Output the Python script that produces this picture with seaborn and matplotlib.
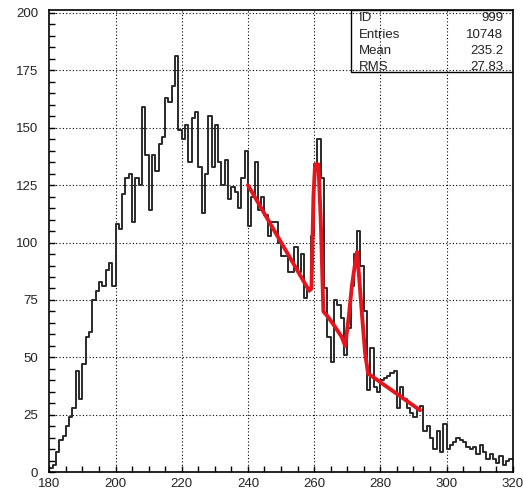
import numpy as np
import pandas as pd
import matplotlib
matplotlib.use("Agg")
import matplotlib.pyplot as plt
from matplotlib.ticker import MultipleLocator
import seaborn as sns

# ---- data ----
bin_low = 180
bin_high = 320
bin_width = 1
counts_180 = [2, 3, 9, 14, 16, 20, 24, 28, 44, 32, 47, 59, 61, 75, 79, 83, 81, 88, 91, 81]
counts_200 = [108, 106, 121, 128, 130, 109, 128, 125, 159, 138, 114, 138, 131, 143, 146, 163, 161, 168, 181, 149]
counts_220 = [145, 151, 135, 154, 157, 133, 113, 130, 155, 133, 151, 135, 125, 136, 119, 124, 122, 115, 128, 140]
counts_240 = [107, 120, 135, 114, 120, 112, 103, 109, 109, 100, 94, 94, 87, 87, 98, 87, 95, 76, 80, 103]
counts_260 = [134, 145, 128, 80, 59, 48, 75, 73, 67, 51, 63, 81, 95, 105, 90, 70, 36, 54, 37, 35]
counts_280 = [40, 41, 42, 43, 44, 28, 37, 32, 28, 26, 24, 27, 29, 18, 20, 15, 10, 18, 9, 21]
counts_300 = [10, 12, 13, 15, 14, 13, 11, 10, 11, 8, 12, 9, 6, 8, 6, 4, 7, 3, 5, 6]

fit_x = [240, 258.5, 259.2, 259.8, 260.3, 261.3, 262.0, 262.8, 264.0, 266.0, 268.3,
         269.4, 270.5, 271.4, 272.3, 273.0, 273.6, 274.5, 275.4, 276.3, 292]
fit_y = [125, 79, 80, 120, 134, 134, 110, 70, 68, 64, 59,
         55, 68, 81, 90, 96, 85, 68, 52, 43, 27]

stat_labels = ["ID", "Entries", "Mean", "RMS"]
stat_values = ["999", "10748", "235.2", "27.83"]

x_ticks = [180, 200, 220, 240, 260, 280, 300, 320]
y_ticks = [0, 25, 50, 75, 100, 125, 150, 175, 200]

counts = counts_180 + counts_200 + counts_220 + counts_240 + counts_260 + counts_280 + counts_300
n = len(counts)
centers = bin_low + bin_width * (np.arange(n) + 0.5)
df = pd.DataFrame({"x": centers, "w": np.asarray(counts, dtype=float)})
fit_df = pd.DataFrame({"x": fit_x, "y": fit_y})

# ---- figure ----
sns.set_style("white")
plt.rcParams["font.family"] = ["Liberation Sans", "DejaVu Sans"]

fig = plt.figure(figsize=(5.23, 4.93), dpi=100)
ax = fig.add_axes([0.0943, 0.042, 0.886, 0.9377])

sns.histplot(data=df, x="x", weights="w", binwidth=bin_width, binrange=(bin_low, bin_high),
             element="step", fill=False, color="#2a2a2a", linewidth=1.4, ax=ax)
sns.lineplot(data=fit_df, x="x", y="y", color="#e8141c", linewidth=2.8, sort=False, ax=ax)

ax.set_xlim(180, 320)
ax.set_ylim(0, 201.2)
ax.set_xlabel("")
ax.set_ylabel("")
ax.set_xticks(x_ticks)
ax.set_yticks(y_ticks)
ax.xaxis.set_minor_locator(MultipleLocator(5))
ax.yaxis.set_minor_locator(MultipleLocator(5))
ax.tick_params(axis="both", which="both", direction="in", length=4.0, width=1.0,
               color="black", labelsize=9.5, labelcolor="#222222")
ax.tick_params(axis="x", which="both", bottom=True, top=False, pad=4)
ax.tick_params(axis="y", which="both", left=True, right=False, pad=8)

for x in x_ticks[1:-1]:
    ax.axvline(x, color="black", linestyle=(0, (1, 2)), linewidth=0.8, zorder=0)
for y in y_ticks[1:]:
    ax.axhline(y, color="black", linestyle=(0, (1, 2)), linewidth=0.8, zorder=0)

for s in ax.spines.values():
    s.set_visible(True)
    s.set_color("black")
    s.set_linewidth(1.2)

# stats box
bx0, by0 = 0.6504, 0.8665
ax.add_patch(plt.Rectangle((bx0, by0), 1 - bx0, 1 - by0, transform=ax.transAxes,
                           facecolor="none", edgecolor="black", linewidth=1.0, zorder=5))
row_y = [0.9820, 0.9470, 0.9110, 0.8775]
for lab, val, yy in zip(stat_labels, stat_values, row_y):
    ax.text(0.667, yy, lab, transform=ax.transAxes, ha="left", va="center",
            fontsize=9.5, color="#222222", zorder=6)
    ax.text(0.980, yy, val, transform=ax.transAxes, ha="right", va="center",
            fontsize=9.5, color="#222222", zorder=6)

fig.savefig("out.png", dpi=100, facecolor="white")
